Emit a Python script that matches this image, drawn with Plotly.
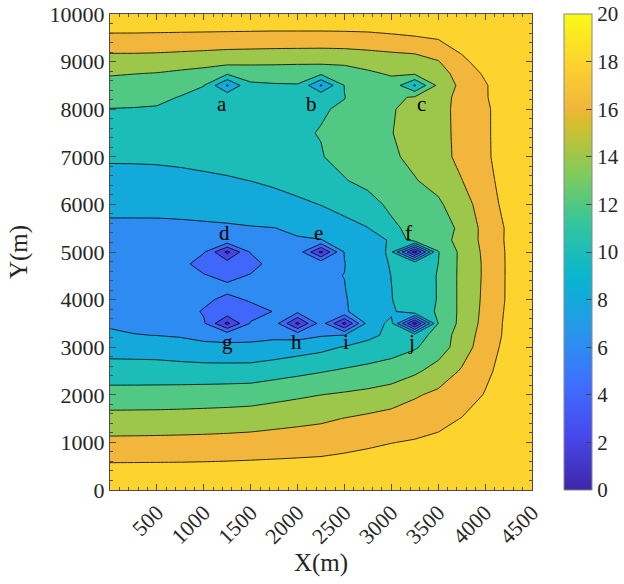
import numpy as np
import plotly.graph_objects as go

# ---------------- data ----------------
x_grid = [0, 250, 500, 750, 1000, 1250, 1500, 1750, 2000, 2250, 2500,
          2750, 3000, 3250, 3500, 3750, 4000, 4250, 4500]
y_grid = [0, 500, 1000, 1500, 2000, 2500, 3000, 3250, 3500, 3750, 4000,
          4250, 4500, 4750, 5000, 5250, 5500, 6000, 6500, 7000, 7500,
          8000, 8250, 8500, 8750, 9000, 9500, 10000]

z_y0 = [20.0, 20.0, 20.0, 20.0, 20.0, 20.0, 20.0, 20.0, 20.0, 20.0, 20.0, 20.0, 20.0, 20.0, 20.0, 20.0, 20.0, 20.0, 20.0]
z_y500 = [18.26, 18.27, 18.28, 18.29, 18.32, 18.36, 18.42, 18.47, 18.52, 18.58, 18.72, 18.86, 18.98, 19.07, 19.2, 19.4, 19.5, 19.8, 20.0]
z_y1000 = [16.48, 16.5, 16.53, 16.56, 16.6, 16.67, 16.76, 16.9, 17.03, 17.15, 17.41, 17.69, 17.96, 18.15, 18.4, 18.7, 19.1, 19.5, 20.0]
z_y1500 = [14.67, 14.69, 14.71, 14.76, 14.83, 14.91, 15.02, 15.25, 15.46, 15.68, 16.05, 16.39, 16.73, 17.03, 17.47, 18.05, 18.6, 19.2, 20.0]
z_y2000 = [12.77, 12.78, 12.8, 12.84, 12.9, 12.97, 13.07, 13.38, 13.69, 13.99, 14.23, 14.49, 14.94, 15.78, 16.42, 17.1, 18.1, 19.0, 20.0]
z_y2500 = [10.87, 10.86, 10.87, 10.85, 10.85, 10.85, 10.87, 11.19, 11.52, 11.87, 12.24, 12.56, 12.86, 13.64, 14.8, 16.2, 17.6, 18.8, 20.0]
z_y3000 = [9.17, 9.12, 9.03, 8.72, 8.38, 8.31, 8.34, 8.68, 9.08, 9.48, 10.13, 10.68, 11.21, 11.8, 13.0, 15.0, 17.1, 18.6, 20.0]
z_y3250 = [8.39, 8.05, 7.98, 7.85, 7.6, 7.5, 7.55, 7.6, 7.3, 7.85, 8.05, 9.5, 10.5, 11.0, 12.8, 14.9, 16.8, 18.5, 20.0]
z_y3500 = [7.7, 7.7, 7.6, 7.2, 6.3, 1.5, 6.2, 7.0, 1.5, 7.0, 1.5, 8.8, 10.5, 1.0, 12.0, 14.6, 16.6, 18.5, 20.0]
z_y3750 = [7.35, 7.35, 7.3, 7.25, 5.75, 5.5, 5.0, 6.1, 6.5, 7.3, 7.8, 8.9, 9.6, 11.5, 12.1, 14.5, 16.5, 18.4, 20.0]
z_y4000 = [7.1, 7.1, 7.05, 7.0, 6.6, 5.3, 6.3, 7.0, 7.4, 7.7, 7.85, 9.0, 9.95, 10.9, 12.1, 14.5, 16.4, 18.3, 20.0]
z_y4250 = [6.95, 6.95, 6.95, 6.95, 6.9, 6.8, 6.95, 7.2, 7.5, 7.75, 7.95, 9.1, 9.98, 10.9, 12.1, 14.5, 16.35, 18.3, 20.0]
z_y4500 = [6.9, 6.9, 6.9, 6.85, 6.3, 5.0, 6.3, 7.3, 7.6, 7.8, 8.02, 9.2, 10.02, 11.0, 12.1, 14.5, 16.3, 18.3, 20.0]
z_y4750 = [6.95, 6.95, 7.0, 7.05, 4.5, 5.0, 4.6, 7.5, 7.7, 7.6, 7.95, 9.3, 10.1, 11.8, 12.0, 14.5, 16.3, 18.3, 20.0]
z_y5000 = [7.1, 7.1, 7.15, 7.2, 6.2, 1.5, 6.2, 7.6, 7.2, 1.5, 8.1, 9.1, 10.3, 1.0, 11.9, 14.5, 16.4, 18.3, 20.0]
z_y5250 = [7.35, 7.35, 7.38, 7.42, 7.48, 7.5, 7.6, 7.7, 7.85, 7.95, 8.6, 9.6, 10.1, 13.0, 13.2, 14.6, 16.6, 18.35, 20.0]
z_y5500 = [7.65, 7.65, 7.65, 7.7, 7.75, 7.8, 7.9, 7.97, 8.3, 8.7, 9.4, 9.95, 11.6, 12.6, 13.3, 14.3, 16.7, 18.3, 20.0]
z_y6000 = [8.46, 8.46, 8.47, 8.5, 8.6, 8.75, 8.95, 9.2, 9.6, 10.05, 10.6, 11.3, 12.4, 13.0, 13.7, 15.1, 17.0, 18.7, 20.0]
z_y6500 = [9.36, 9.37, 9.4, 9.5, 9.65, 9.8, 10.02, 10.35, 10.8, 11.3, 11.9, 12.5, 13.1, 13.9, 14.6, 15.95, 17.3, 19.0, 20.0]
z_y7000 = [10.25, 10.26, 10.3, 10.4, 10.55, 10.75, 11.0, 11.3, 11.6, 11.92, 12.5, 13.1, 13.75, 14.4, 15.3, 16.5, 17.6, 19.2, 20.0]
z_y7500 = [11.1, 11.1, 11.15, 11.25, 11.4, 11.55, 11.7, 11.8, 11.85, 12.05, 12.55, 13.2, 13.95, 14.6, 15.4, 16.5, 17.6, 19.3, 20.0]
z_y8000 = [11.95, 11.93, 11.9, 11.85, 11.8, 11.7, 11.75, 11.8, 11.85, 11.9, 12.15, 13.2, 13.85, 14.6, 15.45, 16.5, 17.6, 19.3, 20.0]
z_y8250 = [12.66, 12.45, 12.25, 11.95, 11.75, 11.47, 11.7, 11.8, 11.85, 11.6, 11.97, 12.8, 13.6, 14.2, 15.2, 16.6, 17.8, 19.4, 20.0]
z_y8500 = [13.39, 13.1, 12.75, 12.4, 12.02, 7.8, 11.8, 11.9, 11.95, 7.8, 12.05, 12.9, 13.3, 9.8, 14.5, 16.5, 17.8, 19.5, 20.0]
z_y8750 = [14.16, 14.05, 13.92, 13.6, 13.2, 12.3, 12.5, 12.5, 12.35, 12.4, 12.9, 13.7, 14.2, 14.3, 15.3, 16.7, 18.3, 19.6, 20.0]
z_y9000 = [15.2, 15.2, 15.15, 15.0, 14.85, 14.65, 14.6, 14.55, 14.5, 14.45, 14.5, 14.75, 14.95, 15.1, 15.9, 17.6, 18.8, 19.7, 20.0]
z_y9500 = [17.5, 17.5, 17.45, 17.4, 17.35, 17.3, 17.25, 17.2, 17.2, 17.2, 17.25, 17.35, 17.6, 17.85, 18.15, 18.9, 19.4, 19.8, 20.0]
z_y10000 = [20.0, 20.0, 20.0, 20.0, 20.0, 20.0, 20.0, 20.0, 20.0, 20.0, 20.0, 20.0, 20.0, 20.0, 20.0, 20.0, 20.0, 20.0, 20.0]

well_names = ["a", "b", "c", "d", "e", "f", "g", "h", "i", "j"]
well_x = [1250, 2250, 3250, 1250, 2250, 3250, 1250, 2000, 2500, 3250]
well_y = [8500, 8500, 8500, 5000, 5000, 5000, 3500, 3500, 3500, 3500]
label_side = ["below", "below", "below", "above", "above", "above",
              "below", "below", "below", "below"]

x_ticks = [500, 1000, 1500, 2000, 2500, 3000, 3500, 4000, 4500]
x_ticktext = ["500", "1000", "1500", "2000", "2500", "3000", "3500", "4000", "4500"]
y_ticks = [0, 1000, 2000, 3000, 4000, 5000, 6000, 7000, 8000, 9000, 10000]
y_ticktext = ["0", "1000", "2000", "3000", "4000", "5000", "6000", "7000",
              "8000", "9000", "10000"]
cbar_ticks = [0, 2, 4, 6, 8, 10, 12, 14, 16, 18, 20]

# ---------------- styling ----------------
label_dx = [-5, -10, 7, -3, -3, -6, 0, -1, 2, -3]   # pixel nudges of the well labels

z_grid = [z_y0, z_y500, z_y1000, z_y1500, z_y2000, z_y2500, z_y3000, z_y3250,
          z_y3500, z_y3750, z_y4000, z_y4250, z_y4500, z_y4750, z_y5000,
          z_y5250, z_y5500, z_y6000, z_y6500, z_y7000, z_y7500, z_y8000,
          z_y8250, z_y8500, z_y8750, z_y9000, z_y9500, z_y10000]

# parula colour map (MATLAB) key colours
PPOS = np.array([0.0, 1/9, 2/9, 3/9, 4/9, 5/9, 6/9, 7/9, 0.80, 8/9, 1.0])
PCOL = np.array([
    [0.2422, 0.1504, 0.6603], [0.2803, 0.2782, 0.9221], [0.2440, 0.4358, 0.9988],
    [0.1540, 0.5902, 0.9218], [0.0297, 0.7082, 0.8163], [0.1938, 0.7758, 0.6251],
    [0.5044, 0.7993, 0.3480], [0.8634, 0.7406, 0.1596], [0.9450, 0.7150, 0.2300],
    [0.9892, 0.8136, 0.1885], [0.9769, 0.9839, 0.0805]])


def parula(t):
    c = [np.interp(t, PPOS, PCOL[:, k]) * 255 for k in range(3)]
    return "rgb(%d,%d,%d)" % tuple(int(round(v)) for v in c)


cmin, cmax, cstep = 0, 20, 2
levels = list(range(cmin, cmax - cstep + 1, cstep))      # 0..18
nbands = len(levels)
# plotly evaluates a band's fill at (level + step) / (nbands*step); give it
# MATLAB-contourf style colour = colormap(lower level)
fill_scale = [[0.0, parula(0.0)]]
for L in levels:
    fill_scale.append([(L - cmin + cstep) / (nbands * cstep),
                       parula((L - cmin) / (cmax - cmin))])

cbar_scale = [[float(p), parula(float(p))] for p in np.linspace(0, 1, 61)]

FONT = "Liberation Serif"
AX = "#4d4d4d"

fig = go.Figure()
fig.add_trace(go.Contour(
    x=x_grid, y=y_grid, z=z_grid,
    autocontour=False,
    contours=dict(start=levels[0], end=levels[-1], size=cstep, coloring="fill"),
    colorscale=fill_scale, showscale=False,
    line=dict(color="black", width=0.8, smoothing=0),
    hoverinfo="skip"))

# continuous colour bar
fig.add_trace(go.Scatter(
    x=[-1000], y=[-1000], mode="markers", showlegend=False, hoverinfo="skip",
    marker=dict(color=[cmin], cmin=cmin, cmax=cmax, colorscale=cbar_scale,
                showscale=True,
                colorbar=dict(x=1.0758, xanchor="left", y=0, yanchor="bottom",
                              len=1, lenmode="fraction", thickness=28,
                              thicknessmode="pixels", xpad=0, ypad=0,
                              outlinewidth=1, outlinecolor="#888",
                              tickvals=cbar_ticks, ticks="inside", ticklen=6,
                              tickcolor="#444",
                              tickfont=dict(family=FONT, size=21, color="#262626")))))

for name, wx, wy, side, dx in zip(well_names, well_x, well_y, label_side, label_dx):
    fig.add_annotation(x=wx, y=wy, text=name, showarrow=False,
                       xshift=dx, yshift=-19 if side == "below" else 19,
                       font=dict(family=FONT, size=21, color="black"))

fig.update_layout(
    width=624, height=584,
    margin=dict(l=110, r=92, t=14, b=94, autoexpand=False),
    paper_bgcolor="white", plot_bgcolor="white",
    font=dict(family=FONT, size=22, color="#262626"),
    xaxis=dict(range=[0, 4500], tickvals=x_ticks, ticktext=x_ticktext, tickangle=-45,
               ticks="inside", ticklen=6, tickcolor=AX, showline=True,
               linecolor=AX, linewidth=1, mirror="allticks",
               showgrid=False, zeroline=False, automargin=False,
               minor=dict(dtick=100, ticks="inside", ticklen=3, tickcolor=AX),
               tickfont=dict(family=FONT, size=22, color="#262626"),
               title=dict(text="X(m)", font=dict(family=FONT, size=25, color="#262626"),
                          standoff=4)),
    yaxis=dict(range=[0, 10000], tickvals=y_ticks, ticktext=y_ticktext,
               ticks="inside", ticklen=6, tickcolor=AX, showline=True,
               linecolor=AX, linewidth=1, mirror="allticks",
               showgrid=False, zeroline=False, automargin=False,
               minor=dict(dtick=200, ticks="inside", ticklen=3, tickcolor=AX),
               tickfont=dict(family=FONT, size=22, color="#262626"),
               title=dict(text="Y(m)", font=dict(family=FONT, size=25, color="#262626"),
                          standoff=14)),
)

fig.write_html("out.html")
